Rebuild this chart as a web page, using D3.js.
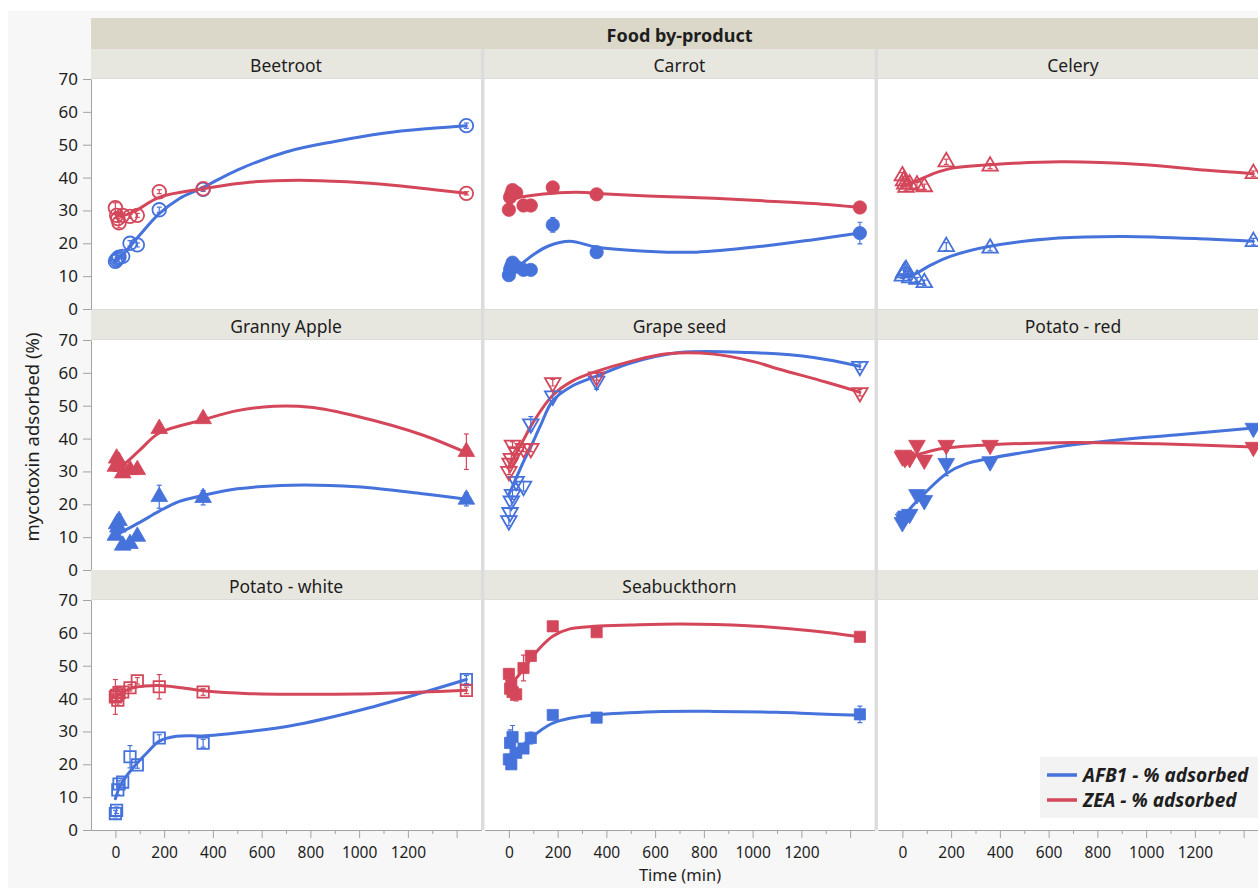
<!DOCTYPE html>
<html>
<head>
<meta charset="utf-8">
<script src="https://cdn.jsdelivr.net/npm/d3@7"></script>
<style>
  body { margin: 0; background: #ffffff; }
  svg { display: block; }
  text { font-family: "Noto Sans", "Open Sans", sans-serif; fill: #1e1e1e; }
</style>
</head>
<body>
<svg id="chart" width="1258" height="888"></svg>
<script>
// ---- Data -------------------------------------------------------------
const categories = ["Beetroot", "Carrot", "Celery", "Granny Apple", "Grape seed",
                    "Potato - red", "Potato - white", "Seabuckthorn"];
const seriesNames = ["AFB1 - % adsorbed", "ZEA - % adsorbed"];
const times = [0, 5, 10, 15, 30, 60, 90, 180, 360, 1440];   // min
const yTicks = [0, 10, 20, 30, 40, 50, 60, 70];
const xTicks = [0, 200, 400, 600, 800, 1000, 1200, 1400];
const xMinorTicks = [100, 300, 500, 700, 900, 1100, 1300];

// mean % adsorbed per category, one value per time point
const afb1Values = [
  [14.5, 15.0, 15.4, 15.8, 16.0, 20.0, 19.5, 30.2, 36.4, 55.8],
  [10.3, 12.0, 13.0, 14.1, 12.9, 11.9, 11.9, 25.6, 17.3, 23.1],
  [10.0, 11.0, 11.5, 12.0, 9.5, 9.0, 8.0, 19.0, 18.5, 20.5],
  [10.5, 14.0, 13.0, 15.0, 7.5, 8.0, 10.2, 22.3, 22.0, 21.5],
  [15.0, 17.5, 21.0, 23.0, 27.0, 25.5, 44.5, 53.0, 57.5, 62.0],
  [14.5, 15.5, 16.0, 16.5, 17.0, 23.0, 21.2, 32.5, 33.0, 43.2],
  [5.0, 6.0, 12.2, 14.0, 14.6, 22.3, 19.8, 28.0, 26.4, 45.8],
  [21.5, 26.5, 20.0, 28.3, 23.5, 24.8, 28.0, 35.0, 34.2, 35.2]
];
const zeaValues = [
  [30.8, 28.5, 27.5, 26.2, 28.5, 28.2, 28.5, 35.7, 36.6, 35.2],
  [30.2, 34.0, 35.0, 36.2, 35.4, 31.5, 31.5, 37.0, 34.9, 30.9],
  [40.5, 39.0, 38.0, 37.0, 38.0, 37.7, 37.2, 44.8, 43.5, 41.2],
  [31.5, 34.0, 32.0, 33.0, 29.5, 30.5, 30.5, 43.0, 46.0, 36.0],
  [30.0, 32.5, 34.0, 38.0, 36.0, 37.0, 37.0, 57.0, 58.8, 54.0],
  [34.5, 35.0, 34.0, 34.5, 34.0, 38.0, 33.5, 38.0, 38.0, 37.4],
  [40.5, 41.0, 39.5, 41.8, 42.0, 43.3, 45.4, 43.6, 42.0, 42.5],
  [47.5, 43.0, 44.0, 42.0, 41.3, 49.3, 53.0, 62.0, 60.2, 58.8]
];
// standard error (half bar length)
const afb1Err = [
  [0.5, 0.5, 0.5, 0.5, 0.6, 0.8, 0.6, 0.8, 0.6, 0.8],
  [0.4, 0.5, 0.5, 0.6, 0.5, 0.5, 0.5, 2.2, 0.6, 3.3],
  [0.6, 0.8, 1.0, 0.6, 0.5, 0.6, 0.8, 1.2, 0.8, 1.0],
  [1.0, 1.5, 2.0, 2.0, 1.0, 1.0, 1.0, 3.5, 2.2, 2.0],
  [1.5, 1.2, 1.5, 1.5, 1.0, 1.5, 2.2, 1.5, 2.5, 1.0],
  [1.2, 1.0, 0.8, 0.8, 1.0, 1.2, 1.5, 3.8, 1.2, 1.0],
  [1.0, 1.0, 1.5, 1.0, 1.0, 3.4, 1.0, 1.0, 1.2, 1.2],
  [1.5, 4.0, 1.0, 3.5, 1.0, 1.5, 1.8, 0.8, 0.8, 2.5]
];
const zeaErr = [
  [1.5, 1.0, 1.0, 1.5, 0.6, 0.6, 0.6, 0.6, 0.6, 0.5],
  [0.6, 1.0, 1.5, 1.5, 0.8, 0.6, 0.6, 0.6, 0.6, 0.5],
  [1.0, 0.8, 0.8, 1.0, 0.8, 0.8, 0.8, 0.8, 0.8, 0.8],
  [1.5, 1.0, 1.0, 1.2, 1.0, 1.0, 1.0, 0.6, 0.6, 5.4],
  [1.0, 1.0, 1.5, 1.0, 1.0, 1.0, 1.0, 1.0, 1.0, 1.0],
  [1.0, 1.0, 1.0, 1.0, 0.8, 1.0, 1.2, 1.0, 0.8, 0.8],
  [5.3, 2.0, 1.5, 1.5, 1.0, 1.0, 1.0, 3.7, 1.0, 1.0],
  [1.5, 2.0, 3.0, 2.5, 2.0, 3.9, 1.0, 0.8, 0.8, 0.8]
];
// smoother fits, [time, % adsorbed]
const afb1Fit = [
  [[0,14.8],[30,16.5],[60,19],[100,22.5],[180,29],[260,33.5],[360,37],[500,42.3],[700,47.8],[900,51],[1100,53.5],[1300,55],[1440,55.8]],
  [[0,11.5],[40,13.1],[100,16.5],[160,19.1],[250,20.6],[360,18.8],[560,17.6],[770,17.3],[1040,19.1],[1250,21.1],[1440,23.1]],
  [[0,9.5],[50,10.6],[120,13.5],[200,16.1],[360,19.1],[640,21.6],[910,22.1],[1250,21.3],[1440,20.6]],
  [[0,10.5],[25,11.5],[100,14.5],[180,17.9],[260,20.8],[360,22.7],[500,24.7],[720,25.8],[990,25.3],[1260,23.2],[1440,21.5]],
  [[0,23],[20,26.3],[60,33],[90,37.5],[130,44],[180,51.5],[260,56],[360,59],[500,63],[700,66.2],[980,66.2],[1250,64.7],[1440,62]],
  [[0,14.5],[30,18.5],[60,21],[100,24],[180,29.3],[260,32.3],[360,34],[500,35.8],[700,38.1],[900,39.7],[1120,41.1],[1440,43.2]],
  [[0,9.5],[15,12.7],[30,14.8],[60,17.8],[90,20.4],[130,23.5],[180,27],[250,28.5],[370,28.7],[550,30],[720,31.7],[990,36.2],[1260,41.8],[1440,45.8]],
  [[0,21.5],[15,22.9],[50,25.3],[90,28],[130,30.3],[180,32.5],[250,34],[350,35],[600,36],[840,36.1],[1100,35.8],[1250,35.4],[1440,34.9]]
];
const zeaFit = [
  [[0,29.5],[30,28.5],[80,29.8],[180,34],[360,36.6],[550,38.6],[750,39.2],[950,38.7],[1150,37.6],[1300,36.4],[1440,35.2]],
  [[0,33.2],[20,33.7],[100,34.6],[180,35.2],[280,35.5],[400,35.0],[600,34.3],[840,33.7],[1050,32.9],[1250,32.1],[1440,30.9]],
  [[0,37.5],[50,38.7],[120,41],[200,42.8],[360,43.9],[650,44.8],[980,44.0],[1250,42.2],[1440,41.2]],
  [[0,31],[30,31.9],[100,36.5],[180,41.7],[360,45.7],[500,48.5],[650,49.8],[800,49.5],[990,46.8],[1260,41.1],[1440,35.7]],
  [[0,31.5],[30,35.5],[60,39.6],[100,45],[180,53.2],[260,57.5],[350,60.2],[500,63.5],[650,65.8],[840,65.7],[1000,63.5],[1110,61.1],[1300,57.2],[1440,54.1]],
  [[0,34.6],[30,34.6],[60,35.1],[120,36.3],[180,37.1],[360,38.1],[700,38.8],[1050,38.4],[1440,37.4]],
  [[0,40.5],[30,42],[80,43.4],[180,44.0],[270,43.3],[370,42.3],[550,41.5],[720,41.3],[990,41.4],[1260,42.0],[1440,42.5]],
  [[0,43.5],[15,44.8],[50,48],[90,52],[130,55.6],[180,59],[250,61.2],[350,62],[500,62.4],[700,62.7],[980,62.2],[1250,60.6],[1440,58.8]]
];

// ---- Layout & style ---------------------------------------------------
const colors = ["#4672db", "#d4475a"];
const markerStyle = [
  { shape: d3.symbolCircle,   open: true,  size: 145, rot: 0 },
  { shape: d3.symbolCircle,   open: false, size: 140, rot: 0 },
  { shape: d3.symbolTriangle, open: true,  size: 105, rot: 0 },
  { shape: d3.symbolTriangle, open: false, size: 120, rot: 0 },
  { shape: d3.symbolTriangle, open: true,  size: 105, rot: 180 },
  { shape: d3.symbolTriangle, open: false, size: 120, rot: 180 },
  { shape: d3.symbolSquare,   open: true,  size: 130, rot: 0 },
  { shape: d3.symbolSquare,   open: false, size: 125, rot: 0 }
];
const colW = 390, gap = 3.5, gridLeft = 91, nCols = 3;
const headerTop = 18, headerH = 31;
const stripH = 30, panelH = 230, rowTop = [49, 310, 570];
const gridW = nCols * colW + (nCols - 1) * gap;
const xDomain = [-100, 1500];
const axisColor = "#a3a3a3";

const svg = d3.select("#chart");

// backgrounds
svg.append("rect").attr("x", 8).attr("y", 11).attr("width", 1250).attr("height", 877)
  .attr("fill", "#f7f7f7");
const gridBottom = rowTop[2] + stripH + panelH;
svg.append("rect").attr("x", gridLeft).attr("y", rowTop[0])
  .attr("width", gridW).attr("height", gridBottom - rowTop[0]).attr("fill", "#dcdcdc");

// header
svg.append("rect").attr("x", gridLeft).attr("y", headerTop).attr("width", gridW).attr("height", headerH)
  .attr("fill", "#dbd8c9");
svg.append("text").attr("x", gridLeft + gridW / 2).attr("y", headerTop + headerH / 2 + 1)
  .attr("text-anchor", "middle").attr("dominant-baseline", "central")
  .attr("font-size", 18).attr("font-weight", "bold").text("Food by-product");

const line = (xs, ys) => d3.line().x(d => xs(d[0])).y(d => ys(d[1])).curve(d3.curveCatmullRom.alpha(0.5));
const defs = svg.append("defs");

for (let cell = 0; cell < 9; cell++) {
  const r = Math.floor(cell / nCols), c = cell % nCols;
  const cx = gridLeft + c * (colW + gap);
  const top = rowTop[r] + stripH;
  const x = d3.scaleLinear().domain(xDomain).range([cx, cx + colW]);
  const y = d3.scaleLinear().domain([0, 70]).range([top + panelH, top]);

  // strip and plot area
  svg.append("rect").attr("x", cx).attr("y", rowTop[r]).attr("width", colW).attr("height", stripH - 1)
    .attr("fill", "#e8e7df");
  svg.append("rect").attr("x", cx).attr("y", top).attr("width", colW).attr("height", panelH)
    .attr("fill", "#ffffff");

  if (cell < categories.length) {
    svg.append("text").attr("x", cx + colW / 2).attr("y", rowTop[r] + stripH / 2 + 1)
      .attr("text-anchor", "middle").attr("dominant-baseline", "central")
      .attr("font-size", 17.5).text(categories[cell]);

    defs.append("clipPath").attr("id", "clip" + cell)
      .append("rect").attr("x", cx).attr("y", top).attr("width", colW).attr("height", panelH);
    const g = svg.append("g").attr("clip-path", `url(#clip${cell})`);

    const fits = [afb1Fit[cell], zeaFit[cell]];
    const vals = [afb1Values[cell], zeaValues[cell]];
    const errs = [afb1Err[cell], zeaErr[cell]];
    const ms = markerStyle[cell];

    fits.forEach((f, s) => {
      g.append("path").datum(f).attr("d", line(x, y)).attr("fill", "none")
        .attr("stroke", colors[s]).attr("stroke-width", 3).attr("stroke-linecap", "round");
    });

    vals.forEach((v, s) => {
      const pts = times.map((t, i) => ({ t, v: v[i], e: errs[s][i] }));
      const eb = g.append("g").attr("stroke", colors[s]).attr("stroke-width", 1.2);
      pts.forEach(p => {
        const px = x(p.t), y1 = y(p.v - p.e), y2 = y(p.v + p.e);
        eb.append("line").attr("x1", px).attr("x2", px).attr("y1", y1).attr("y2", y2);
        eb.append("line").attr("x1", px - 2.5).attr("x2", px + 2.5).attr("y1", y1).attr("y2", y1);
        eb.append("line").attr("x1", px - 2.5).attr("x2", px + 2.5).attr("y1", y2).attr("y2", y2);
      });
      g.append("g").selectAll("path").data(pts).join("path")
        .attr("d", d3.symbol().type(ms.shape).size(ms.size))
        .attr("transform", p => `translate(${x(p.t)},${y(p.v)}) rotate(${ms.rot})`)
        .attr("fill", ms.open ? "none" : colors[s])
        .attr("stroke", colors[s]).attr("stroke-width", ms.open ? 1.8 : 0.8);
    });
  }

  // y axis on first column
  if (c === 0) {
    const ay = svg.append("g").attr("transform", `translate(${cx},0)`)
      .call(d3.axisLeft(y).tickValues(yTicks).tickSize(8).tickSizeOuter(0).tickPadding(5));
    ay.selectAll("path,line").attr("stroke", axisColor);
    ay.selectAll("text").attr("font-size", 17).attr("fill", "#222")
      .style("font-family", '"Noto Sans", sans-serif');
  }
  // x axis on bottom row
  if (r === 2) {
    const ax = svg.append("g").attr("transform", `translate(0,${gridBottom})`)
      .call(d3.axisBottom(x).tickValues(xTicks).tickSize(8).tickSizeOuter(0).tickPadding(9)
        .tickFormat(d => d <= 1200 ? d : ""));
    ax.selectAll("path,line").attr("stroke", axisColor);
    ax.selectAll("text").attr("font-size", 15.5).attr("fill", "#222")
      .style("font-family", '"Noto Sans", sans-serif');
    const am = svg.append("g").attr("transform", `translate(0,${gridBottom})`)
      .call(d3.axisBottom(x).tickValues(xMinorTicks).tickSize(4).tickSizeOuter(0).tickFormat(""));
    am.selectAll("path,line").attr("stroke", axisColor);
  }
}

// axis titles
svg.append("text").attr("x", 680).attr("y", 881).attr("text-anchor", "middle")
  .attr("font-size", 16.5).text("Time (min)");
svg.append("text").attr("transform", "translate(39,437) rotate(-90)")
  .attr("text-anchor", "middle").attr("font-size", 18.5).text("mycotoxin adsorbed (%)");

// legend
const lg = svg.append("g").attr("transform", "translate(1040,757)");
lg.append("rect").attr("width", 230).attr("height", 61).attr("fill", "#f3f3f3");
seriesNames.forEach((name, i) => {
  const ly = 18 + i * 25;
  lg.append("line").attr("x1", 7).attr("x2", 37).attr("y1", ly).attr("y2", ly)
    .attr("stroke", colors[i]).attr("stroke-width", 3.5);
  lg.append("text").attr("x", 43).attr("y", ly).attr("dominant-baseline", "central")
    .attr("font-size", 19).attr("font-weight", "bold").attr("font-style", "italic")
    .attr("fill", "#111").text(name);
});
</script>
</body>
</html>
